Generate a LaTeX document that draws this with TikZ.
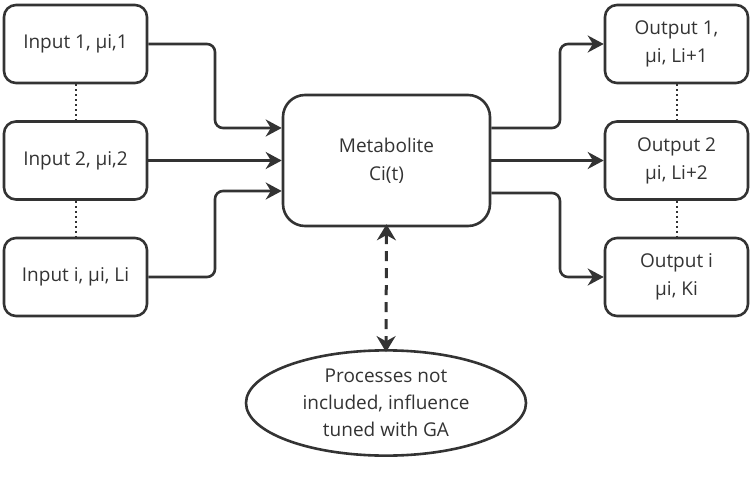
\documentclass[tikz,border=0pt]{standalone}
\usepackage{fontspec}
\setmainfont{Open Sans}
\usetikzlibrary{arrows.meta,shapes.geometric}
\definecolor{ink}{HTML}{333333}
\begin{document}
\begin{tikzpicture}[x=1pt,y=-1pt,
  box/.style={draw=ink,line width=2.6pt,rounded corners=12pt,minimum width=143pt,minimum height=78pt,align=center,font=\fontsize{19}{28}\selectfont,text=ink},
  con/.style={draw=ink,line width=2.6pt,rounded corners=8pt,-{Stealth[length=16pt,width=17pt]}},
  dots/.style={draw=ink,line width=2pt,dash pattern=on 2pt off 3pt}]
\useasboundingbox (0,0) rectangle (752,481);
\node[box] (i1) at (75.5,44) {Input 1, µi,1};
\node[box] (i2) at (75.5,160.5) {Input 2, µi,2};
\node[box] (i3) at (75.5,277) {Input i, µi, Li};
\node[box,minimum width=207pt,minimum height=131pt,rounded corners=22pt] (m) at (386.5,160.5) {Metabolite\\Ci(t)};
\node[box] (o1) at (676.5,44) {Output 1,\\µi, Li+1};
\node[box] (o2) at (676.5,160.5) {Output 2\\µi, Li+2};
\node[box] (o3) at (676.5,277) {Output i\\µi, Ki};
\node[draw=ink,line width=2.6pt,ellipse,minimum width=280pt,minimum height=94pt,align=center,font=\fontsize{19}{27}\selectfont,text=ink] (e) at (386,403) {Processes not\\included, influence\\tuned with GA};
\draw[dots] (i1.south) -- (i2.north);
\draw[dots] (i2.south) -- (i3.north);
\draw[dots] (o1.south) -- (o2.north);
\draw[dots] (o2.south) -- (o3.north);
\draw[con] (i1.east) -| (215,128) -- (m.west |- 0,128);
\draw[con] (i2.east) -- (m.west);
\draw[con] (i3.east) -| (215,191) -- (m.west |- 0,191);
\draw[con] (m.east |- 0,128) -| (560,44) -- (o1.west);
\draw[con] (m.east) -- (o2.west);
\draw[con] (m.east |- 0,193) -| (560,277) -- (o3.west);
\draw[draw=ink,line width=3pt,dash pattern=on 10pt off 7pt,{Stealth[length=16pt,width=19pt]}-{Stealth[length=16pt,width=19pt]}] ([yshift=3pt]m.south) -- ([yshift=-3pt]e.north);
\end{tikzpicture}
\end{document}
